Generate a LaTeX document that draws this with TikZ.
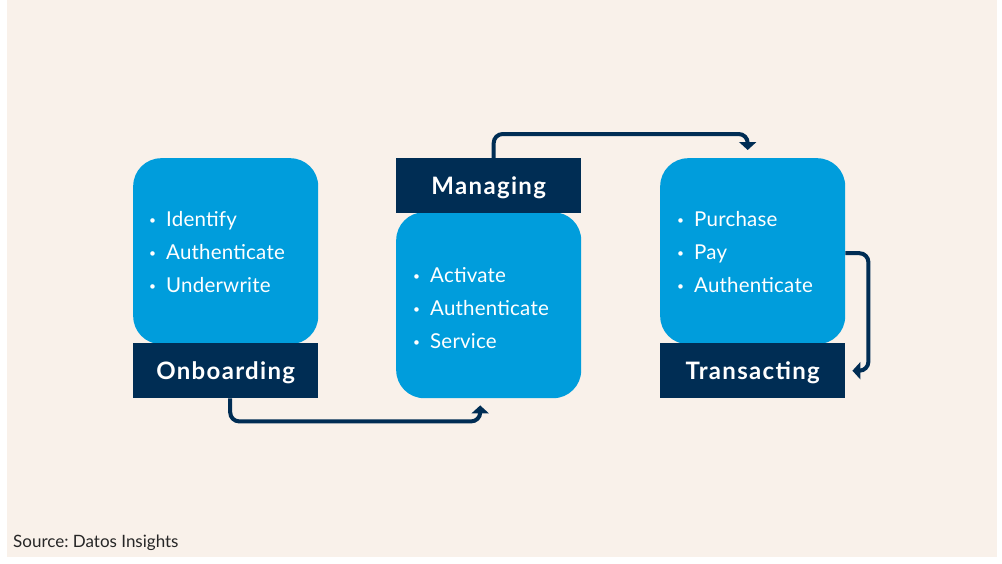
\documentclass[tikz,border=0pt]{standalone}
\usepackage{fontspec}
\setmainfont{Lato}
\newfontfamily\tagfont[LetterSpace=5.5]{Lato}
\newfontfamily\itemfont[LetterSpace=1]{Lato}
\usetikzlibrary{positioning, calc, arrows.meta}
\definecolor{sand}{HTML}{F9F1EA}
\definecolor{sky}{HTML}{009DDC}
\definecolor{navy}{HTML}{002D54}
\tikzstyle{card}=[fill=sky,rounded corners=28pt,minimum width=185pt,minimum height=186pt,inner sep=0pt,anchor=north west]
\tikzstyle{tag}=[fill=navy,text=white,font=\tagfont\fontsize{24}{24}\selectfont\bfseries,minimum width=185pt,minimum height=55pt,inner sep=0pt,text height=17.2pt,text depth=0pt,anchor=north west]
\tikzstyle{item}=[text=white,font=\itemfont\fontsize{20.5}{20.5}\selectfont,inner sep=0pt,anchor=base west]
\tikzstyle{flow}=[navy,line width=4pt,rounded corners=9pt,-{Triangle[width=17pt,length=8pt]}]
\newcommand{\bulletmark}{\makebox[17pt][l]{\raisebox{2.5pt}{\fontsize{12}{12}\selectfont\textbullet}}}

\begin{document}
\begin{tikzpicture}[x=1pt,y=-1pt]
    \useasboundingbox (0,0) rectangle (1002,563);
    \fill[sand] (7,0) rectangle (997,557);
    % stages
    \node[card] (onb) at (133,158) {};
    \node[tag] (onbl) at (133,343) {Onboarding};
    \node[card] (mgb) at (396,212) {};
    \node[tag] (mgbl) at (396,158) {Managing};
    \node[card] (trb) at (660,158) {};
    \node[tag] (trbl) at (660,343) {Transacting};
    % bullets
    \foreach \n/\xs/\ys/\lst in {o/149/226.7/{Identify,Authenticate,Underwrite}, m/413/282.7/{Activate,Authenticate,Service}, t/677/226.7/{Purchase,Pay,Authenticate}} {
        \foreach \t [count=\i] in \lst
            \node[item] (\n\i) at (\xs,\ys+33*\i-33) {\bulletmark\t};}
    % arrows
    \draw[flow] ($(onbl.south)+(4.5,0)$) -- ++(0,23) -| ($(mgb.south)+(-8.5,7)$);
    \draw[flow] ($(mgbl.north)+(5,0)$) -- ++(0,-24) -| ($(trb.north)+(-5,-8)$);
    \draw[flow] ($(trb.east)+(0,2)$) -- ++(23,0) |- ($(trbl.east)+(7,0)$);
    \node[font=\fontsize{17}{17}\selectfont\frenchspacing,anchor=base west,inner sep=0pt,text=black!85] (src) at (13,547.3) {Source: Datos Insights};
\end{tikzpicture}
\end{document}
